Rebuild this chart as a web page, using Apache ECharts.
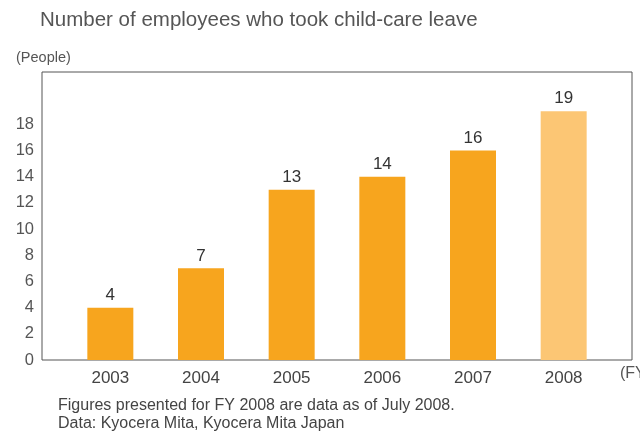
<!DOCTYPE html>
<html>
<head>
<meta charset="utf-8">
<script src="https://cdn.jsdelivr.net/npm/echarts@6/dist/echarts.min.js"></script>
<style>
  html, body { margin: 0; padding: 0; background: #fff; }
  #chart { width: 640px; height: 436px; }
</style>
</head>
<body>
<div id="chart"></div>
<script>
// data
var years = ['2003', '2004', '2005', '2006', '2007', '2008'];
var employees = [4, 7, 13, 14, 16, 19];
var yTicks = [0, 2, 4, 6, 8, 10, 12, 14, 16, 18];

var barColor = '#F7A51E';
var lastColor = '#FCC674';
var fontName = '"Liberation Sans", Arial, sans-serif';

var myChart = echarts.init(document.getElementById('chart'));

var option = {
    animation: false,
    textStyle: { fontFamily: fontName },
    title: {
        text: 'Number of employees who took child-care leave',
        left: 35,
        top: 5,
        textStyle: { fontSize: 20.5, fontWeight: 'normal', color: '#555' }
    },
    grid: [
        // frame box with y labels
        { left: 42, right: 8, top: 72, bottom: 76, show: true, borderColor: '#555', borderWidth: 1 },
        // bars
        { left: 65, right: 31, top: 72, bottom: 76 }
    ],
    xAxis: [
        { gridIndex: 0, type: 'value', show: false, min: 0, max: 1 },
        {
            gridIndex: 1,
            type: 'category',
            data: years,
            axisLine: { show: false },
            axisTick: { show: false },
            axisLabel: { margin: 10, fontSize: 17, color: '#444' }
        }
    ],
    yAxis: [
        {
            gridIndex: 0,
            type: 'value',
            min: 0,
            max: 22,
            interval: 2,
            axisLine: { show: false },
            axisTick: { show: false },
            splitLine: { show: false },
            axisLabel: {
                margin: 8,
                fontSize: 16.5,
                color: '#555',
                padding: [4, 0, 0, 0],
                formatter: function (v) { return yTicks.indexOf(v) >= 0 ? String(v) : ''; }
            }
        },
        { gridIndex: 1, type: 'value', min: 0, max: 22, show: false }
    ],
    series: [{
        type: 'bar',
        xAxisIndex: 1,
        yAxisIndex: 1,
        barWidth: 46,
        data: employees.map(function (v, i) {
            return { value: v, itemStyle: { color: i === employees.length - 1 ? lastColor : barColor } };
        }),
        label: {
            show: true,
            position: 'top',
            distance: 4,
            fontSize: 17,
            color: '#333'
        }
    }],
    graphic: [
        { type: 'text', left: 16, top: 50, style: { text: '(People)', fill: '#555', font: '14.5px ' + fontName } },
        { type: 'text', left: 620, top: 366, style: { text: '(FY)', fill: '#555', font: '16px ' + fontName } },
        { type: 'text', left: 58, top: 398, style: { text: 'Figures presented for FY 2008 are data as of July 2008.', fill: '#444', font: '16px ' + fontName } },
        { type: 'text', left: 58, top: 416, style: { text: 'Data: Kyocera Mita, Kyocera Mita Japan', fill: '#444', font: '16px ' + fontName } }
    ]
};

myChart.setOption(option);
</script>
</body>
</html>
